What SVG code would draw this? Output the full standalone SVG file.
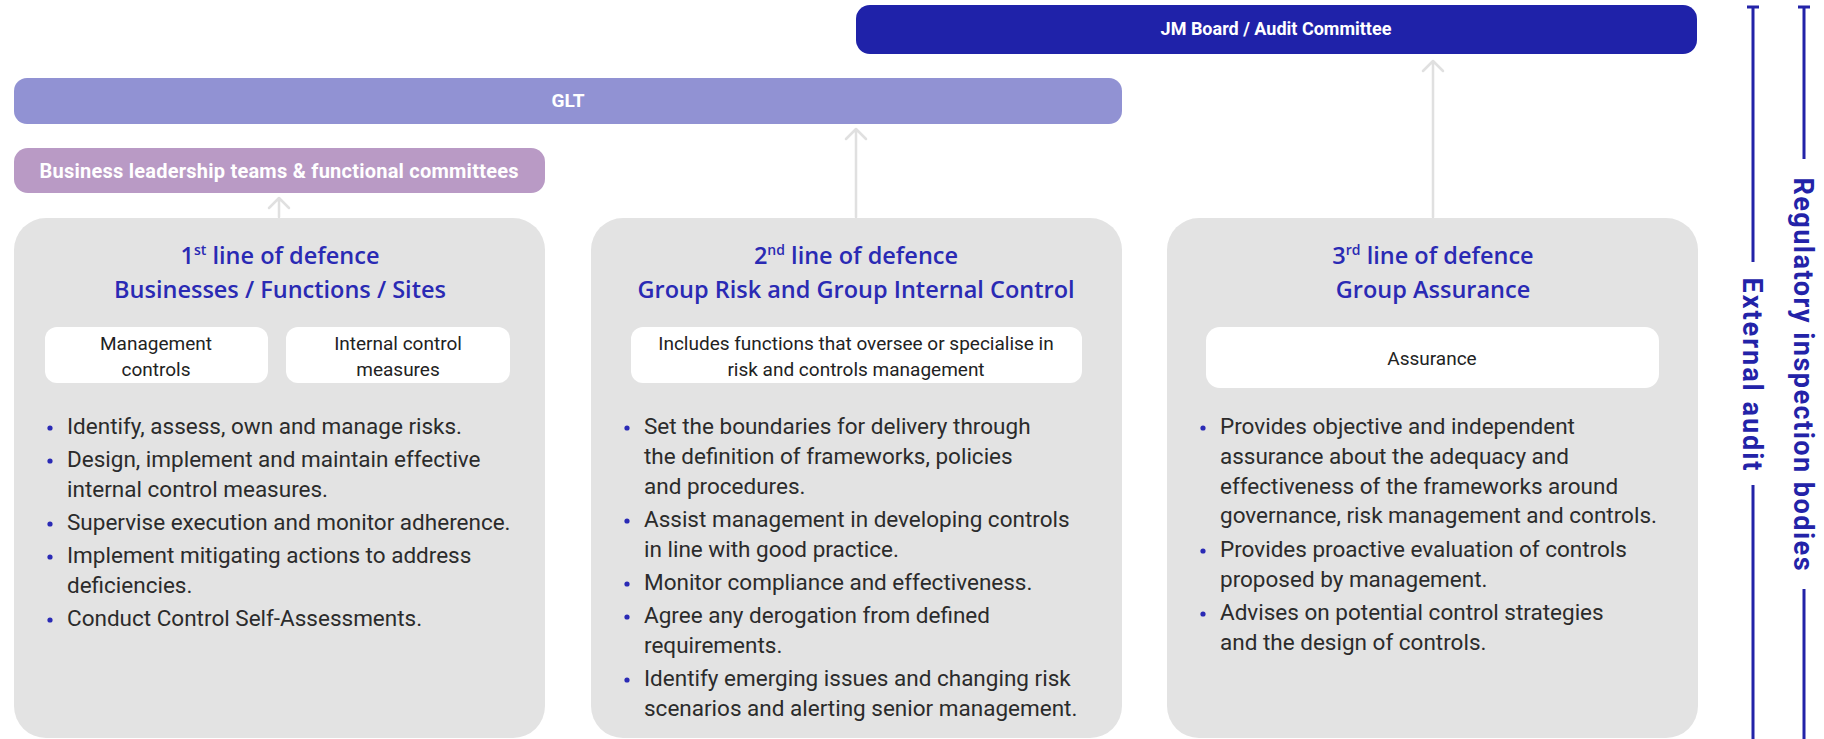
<svg xmlns="http://www.w3.org/2000/svg" width="1824" height="739" viewBox="0 0 1824 739">
<style>
.bar{font-family:Roboto,"Liberation Sans",sans-serif;font-weight:700;fill:#fff;text-anchor:middle}
.panel{fill:#e3e3e3}
.card{fill:#fff}
.title{font-family:"Open Sans","Noto Sans",sans-serif;font-weight:600;font-size:23.5px;fill:#2a2ab4;text-anchor:middle}
.sup{font-size:14px}
.cardtxt{font-family:Roboto,"Liberation Sans",sans-serif;font-weight:400;font-size:19px;fill:#222;text-anchor:middle}
.body{font-family:Roboto,"Liberation Sans",sans-serif;font-weight:400;font-size:22.5px;fill:#2b2b2b}
.dot{fill:#2a2ab5}
.conn{stroke:#e0e0e0;stroke-width:2.5;fill:none;stroke-linecap:round;stroke-linejoin:round}
.side{stroke:#2323a8;stroke-width:3;fill:none}
.sidetxt{font-family:Roboto,"Liberation Sans",sans-serif;font-weight:700;font-size:27px;fill:#2323a8;text-anchor:middle}
</style>

<g id="jm-board">
<rect x="856" y="5" width="841" height="49" rx="14" fill="#1f22a9"/>
<text class="bar" x="1276" y="35" font-size="18">JM Board / Audit Committee</text>
</g>

<g id="glt">
<rect x="14" y="78" width="1108" height="46" rx="13" fill="#9192d3"/>
<text class="bar" x="568" y="107" font-size="19">GLT</text>
</g>

<g id="business-leadership">
<rect x="14" y="148" width="531" height="45" rx="14" fill="#b99ac5"/>
<text class="bar" x="279" y="178" font-size="20" textLength="479">Business leadership teams &amp; functional committees</text>
</g>

<g id="connectors">
<path class="conn" d="M279 217V198M269 208L279 198L289 208"/>
<path class="conn" d="M856 217V129M846 139L856 129L866 139"/>
<path class="conn" d="M1433 217V61M1423 71L1433 61L1443 71"/>
</g>

<g id="line1">
<rect class="panel" x="14" y="218" width="531" height="520" rx="32"/>
<text class="title" x="280" y="264">1<tspan class="sup" dy="-9">st</tspan><tspan dy="9"> line of defence</tspan></text>
<text class="title" x="280" y="298">Businesses / Functions / Sites</text>
<rect class="card" x="45" y="327" width="223" height="56" rx="12"/>
<text class="cardtxt" x="156" y="350">Management</text>
<text class="cardtxt" x="156" y="376">controls</text>
<rect class="card" x="286" y="327" width="224" height="56" rx="12"/>
<text class="cardtxt" x="398" y="350">Internal control</text>
<text class="cardtxt" x="398" y="376">measures</text>
<circle class="dot" cx="50" cy="428" r="2.6"/>
<circle class="dot" cx="50" cy="461" r="2.6"/>
<circle class="dot" cx="50" cy="524" r="2.6"/>
<circle class="dot" cx="50" cy="557" r="2.6"/>
<circle class="dot" cx="50" cy="620" r="2.6"/>
<text class="body" x="67" y="434">Identify, assess, own and manage risks.</text>
<text class="body" x="67" y="467">Design, implement and maintain effective</text>
<text class="body" x="67" y="497">internal control measures.</text>
<text class="body" x="67" y="530">Supervise execution and monitor adherence.</text>
<text class="body" x="67" y="563">Implement mitigating actions to address</text>
<text class="body" x="67" y="593">deficiencies.</text>
<text class="body" x="67" y="626">Conduct Control Self-Assessments.</text>
</g>

<g id="line2">
<rect class="panel" x="591" y="218" width="531" height="520" rx="32"/>
<text class="title" x="856" y="264">2<tspan class="sup" dy="-9">nd</tspan><tspan dy="9"> line of defence</tspan></text>
<text class="title" x="856" y="298">Group Risk and Group Internal Control</text>
<rect class="card" x="631" y="327" width="451" height="56" rx="12"/>
<text class="cardtxt" x="856" y="350">Includes functions that oversee or specialise in</text>
<text class="cardtxt" x="856" y="376">risk and controls management</text>
<circle class="dot" cx="627" cy="428" r="2.6"/>
<circle class="dot" cx="627" cy="521" r="2.6"/>
<circle class="dot" cx="627" cy="584" r="2.6"/>
<circle class="dot" cx="627" cy="617" r="2.6"/>
<circle class="dot" cx="627" cy="680" r="2.6"/>
<text class="body" x="644" y="434">Set the boundaries for delivery through</text>
<text class="body" x="644" y="464">the definition of frameworks, policies</text>
<text class="body" x="644" y="494">and procedures.</text>
<text class="body" x="644" y="527">Assist management in developing controls</text>
<text class="body" x="644" y="557">in line with good practice.</text>
<text class="body" x="644" y="590">Monitor compliance and effectiveness.</text>
<text class="body" x="644" y="623">Agree any derogation from defined</text>
<text class="body" x="644" y="653">requirements.</text>
<text class="body" x="644" y="686">Identify emerging issues and changing risk</text>
<text class="body" x="644" y="716">scenarios and alerting senior management.</text>
</g>

<g id="line3">
<rect class="panel" x="1167" y="218" width="531" height="520" rx="32"/>
<text class="title" x="1433" y="264">3<tspan class="sup" dy="-9">rd</tspan><tspan dy="9"> line of defence</tspan></text>
<text class="title" x="1433" y="298">Group Assurance</text>
<rect class="card" x="1206" y="327" width="453" height="61" rx="14"/>
<text class="cardtxt" x="1432" y="365">Assurance</text>
<circle class="dot" cx="1203" cy="428" r="2.6"/>
<circle class="dot" cx="1203" cy="551" r="2.6"/>
<circle class="dot" cx="1203" cy="614" r="2.6"/>
<text class="body" x="1220" y="434">Provides objective and independent</text>
<text class="body" x="1220" y="464">assurance about the adequacy and</text>
<text class="body" x="1220" y="494">effectiveness of the frameworks around</text>
<text class="body" x="1220" y="523">governance, risk management and controls.</text>
<text class="body" x="1220" y="557">Provides proactive evaluation of controls</text>
<text class="body" x="1220" y="587">proposed by management.</text>
<text class="body" x="1220" y="620">Advises on potential control strategies</text>
<text class="body" x="1220" y="650">and the design of controls.</text>
</g>

<g id="external-audit">
<path class="side" d="M1747 7H1759M1753 7V262M1753 485V739"/>
<text class="sidetxt" transform="rotate(90 1743 374)" x="1743" y="374" textLength="193">External audit</text>
</g>

<g id="regulatory-bodies">
<path class="side" d="M1798 7H1810M1804 7V159M1804 589V739"/>
<text class="sidetxt" transform="rotate(90 1794 374)" x="1794" y="374" textLength="393">Regulatory inspection bodies</text>
</g>
</svg>
